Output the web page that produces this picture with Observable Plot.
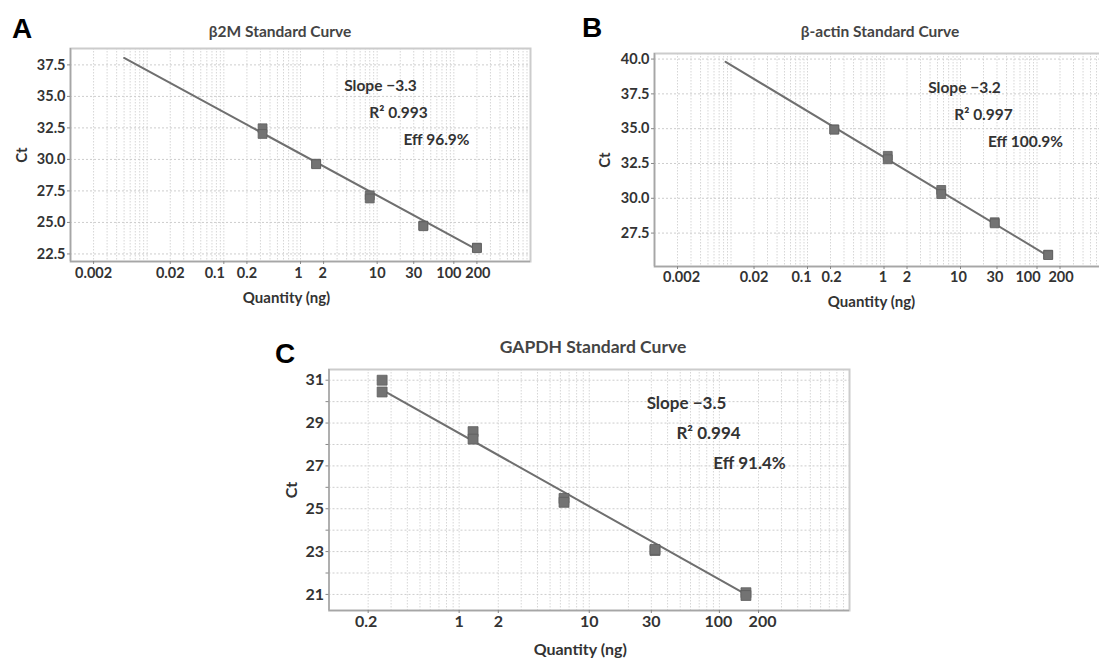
<!DOCTYPE html>
<html><head><meta charset="utf-8">
<script src="https://cdn.jsdelivr.net/npm/d3@7"></script>
<script src="https://cdn.jsdelivr.net/npm/@observablehq/plot@0.6"></script>
<style>
html,body{margin:0;padding:0;background:#fff;overflow:hidden;width:1099px;height:659px;}
#fig{position:relative;width:1099px;height:659px;overflow:hidden;}
.panel{position:absolute;}
.panel svg{max-width:none !important;}
#overlay{position:absolute;left:0;top:0;pointer-events:none;}
</style></head>
<body><div id="fig"></div>
<script>
// ---------- data ----------
const titles = ["β2M Standard Curve", "β-actin Standard Curve", "GAPDH Standard Curve"];
const letters = ["A", "B", "C"];
const xLabel = "Quantity (ng)";
const yLabel = "Ct";

const xTicksAB = [0.002, 0.02, 0.1, 0.2, 1, 2, 10, 30, 100, 200];
const xTicksC = [0.2, 1, 2, 10, 30, 100, 200];
const yTicksA = [22.5, 25, 27.5, 30, 32.5, 35, 37.5];
const yTicksB = [27.5, 30, 32.5, 35, 37.5, 40];
const yTicksC = [21, 22, 23, 24, 25, 26, 27, 28, 29, 30, 31];
const yLabelsC = [21, 23, 25, 27, 29, 31];

// panel A (β2M)
const qtyA = [0.32, 0.32, 1.6, 1.6, 8, 8, 40, 40, 200, 200];
const ctA  = [32.47, 32.02, 29.66, 29.62, 27.15, 26.9, 24.75, 24.7, 23.0, 22.96];
const fitQtyA = [0.005, 200];
const fitCtA  = [38.05, 22.85];
const notesA = ["Slope −3.3", "R² 0.993", "Eff 96.9%"];

// panel B (β-actin)
const qtyB = [0.224, 0.224, 1.12, 1.12, 5.6, 5.6, 28, 28, 140, 140];
const ctB  = [34.95, 34.93, 33.05, 32.8, 30.6, 30.3, 28.28, 28.2, 25.95, 25.92];
const fitQtyB = [0.0085, 150];
const fitCtB  = [39.8, 25.75];
const notesB = ["Slope −3.2", "R² 0.997", "Eff 100.9%"];

// panel C (GAPDH)
const qtyC = [0.256, 0.256, 1.28, 1.28, 6.4, 6.4, 32, 32, 160, 160];
const ctC  = [31.0, 30.45, 28.6, 28.25, 25.48, 25.3, 23.05, 23.1, 21.08, 20.95];
const fitQtyC = [0.256, 160];
const fitCtC  = [30.55, 21.0];
const notesC = ["Slope −3.5", "R² 0.994", "Eff 91.4%"];

// ---------- drawing ----------
const FONT = "Lato, 'Open Sans', sans-serif";
const GRAY = "#6f6f6f";
const TXT = "#333";

function logGrid(lo, hi) {
  const g = [];
  const e0 = Math.round(Math.log10(lo)), e1 = Math.round(Math.log10(hi));
  for (let e = e0; e < e1; e++) for (let k = 1; k <= 9; k++) g.push(k * Math.pow(10, e));
  g.push(hi);
  return g;
}

function panel(o) {
  const pts = o.qty.map((q, i) => ({q, c: o.ct[i]}));
  const fit = o.fitQty.map((q, i) => ({q, c: o.fitCt[i]}));
  const noteMarks = o.notes.map((t, i) => Plot.text([t], {
    text: d => d, frameAnchor: "top-left", dx: o.noteDx[i], dy: o.noteDy[i],
    textAnchor: "middle", lineAnchor: "middle", fontSize: o.noteSize, fontWeight: "bold", fill: TXT
  }));
  // one text mark per x tick label, so each can be nudged apart like in the original software
  const xLabelMarks = o.xTicks.map((v, i) => Plot.text([v], {
    x: d => d, text: d => String(d), frameAnchor: "bottom", dx: o.xNudge[i], dy: o.xTickDy,
    lineAnchor: "top", fill: TXT
  }));
  return Plot.plot({
    width: o.width, height: o.height,
    marginLeft: o.mL, marginRight: o.mR, marginTop: o.mT, marginBottom: o.mB,
    x: {type: "log", domain: o.xDomain},
    y: {domain: o.yDomain},
    style: {fontFamily: FONT, fontSize: o.tickSize + "px", fontWeight: "bold", color: TXT, background: "transparent", maxWidth: "none"},
    marks: [
      Plot.gridX(logGrid(o.xDomain[0], o.xDomain[1]), {stroke: "#d6d6d6", strokeOpacity: 1, strokeDasharray: "1.5,1.5"}),
      Plot.gridY(o.yGrid, {stroke: "#cdcdcd", strokeOpacity: 1, strokeDasharray: "2,2"}),
      Plot.frame({stroke: "#cccccc", strokeWidth: 2}),
      Plot.ruleX([o.xDomain[0]], {stroke: "#a6a6a6", strokeWidth: 1.5}),
      Plot.ruleY([o.yDomain[0]], {stroke: "#a6a6a6", strokeWidth: 1.5}),
      Plot.axisX(o.xTicks, {tickSize: 3, stroke: "#888", tickFormat: () => "", label: null}),
      ...xLabelMarks,
      Plot.axisY(o.yTicks, {tickSize: 3, tickPadding: 2, stroke: "#888", tickFormat: o.yFormat, label: null}),
      Plot.text([xLabel], {text: d => d, frameAnchor: "bottom", dx: o.xLabelDx, dy: o.xLabelDy, lineAnchor: "middle", fontSize: o.labelSize, fill: TXT}),
      Plot.text([yLabel], {text: d => d, frameAnchor: "left", dx: o.yLabelDx, rotate: -90, textAnchor: "middle", lineAnchor: "middle", fontSize: o.labelSize, fill: TXT}),
      Plot.line(fit, {x: "q", y: "c", stroke: GRAY, strokeWidth: 2}),
      Plot.dot(pts, {x: "q", y: "c", symbol: "square", r: o.dotR, fill: "#737373", stroke: "#5e5e5e", strokeWidth: 0.8}),
      ...noteMarks
    ]
  });
}

const fig = document.getElementById("fig");
function place(el, left, top, w, h) {
  const d = document.createElement("div");
  d.className = "panel"; d.style.left = left + "px"; d.style.top = top + "px";
  d.style.width = w + "px"; d.style.height = h + "px";
  d.appendChild(el); fig.appendChild(d);
}

place(panel({
  width: 545, height: 320, mL: 70, mR: 15, mT: 48, mB: 59,
  xDomain: [0.001, 1000], yDomain: [21.9, 38.8],
  xTicks: xTicksAB, xNudge: [0, 0, -9, 0, -2, -1, 0, 0, -5, 1],
  yTicks: yTicksA, yGrid: yTicksA, yFormat: d3.format(".1f"),
  qty: qtyA, ct: ctA, fitQty: fitQtyA, fitCt: fitCtA, dotR: 5,
  notes: notesA, noteDx: [310, 328, 366], noteDy: [38, 65, 92], noteSize: 15.5,
  tickSize: 14.5, labelSize: 15, xTickDy: 6, xLabelDx: -14, xLabelDy: 37, yLabelDx: -48.5
}), 0, 0, 545, 320);

place(panel({
  width: 580, height: 320, mL: 94, mR: 27, mT: 53, mB: 54,
  xDomain: [0.001, 1000], yDomain: [25.1, 40.4],
  xTicks: xTicksAB, xNudge: [4, 0, -6, 1, -1, 0, -2, -2, -9, 1],
  yTicks: yTicksB, yGrid: yTicksB, yFormat: d3.format(".1f"),
  qty: qtyB, ct: ctB, fitQty: fitQtyB, fitCt: fitCtB, dotR: 5,
  notes: notesB, noteDx: [310, 329, 371], noteDy: [35, 62, 89], noteSize: 15.5,
  tickSize: 14.5, labelSize: 15, xTickDy: 5, xLabelDx: -12.5, xLabelDy: 36, yLabelDx: -49
}), 560, 0, 580, 320);

place(panel({
  width: 600, height: 329, mL: 68.5, mR: 11, mT: 39, mB: 49,
  xDomain: [0.1, 1000], yDomain: [20.25, 31.5],
  xTicks: xTicksC, xNudge: [-2, 0, 0, 0, 0, -1, 4],
  yTicks: yTicksC, yGrid: yTicksC, yFormat: d => (yLabelsC.includes(d) ? String(d) : ""),
  qty: qtyC, ct: ctC, fitQty: fitQtyC, fitCt: fitCtC, dotR: 5.6,
  notes: notesC, noteDx: [357.5, 379.5, 420.5], noteDy: [34, 64, 94], noteSize: 17,
  tickSize: 16, labelSize: 16, xTickDy: 5, xLabelDx: -9, xLabelDy: 39.5, yLabelDx: -37
}), 260, 330, 600, 329);

// overlay: panel letters and titles
const svg = d3.select("#fig").append("svg").attr("id", "overlay").attr("width", 1099).attr("height", 659);
const letterPos = [[12, 38], [582, 37], [275, 363]];
svg.selectAll("text.letter").data(letters).join("text").attr("class", "letter")
  .attr("x", (d, i) => letterPos[i][0]).attr("y", (d, i) => letterPos[i][1])
  .attr("font-family", "'Liberation Sans', Arial, sans-serif").attr("font-weight", "bold")
  .attr("font-size", 28).attr("fill", "#000").text(d => d);
const titlePos = [[280, 37], [880, 37], [593, 353]];
const titleSize = [15.5, 15.5, 17.5];
svg.selectAll("text.title").data(titles).join("text").attr("class", "title")
  .attr("x", (d, i) => titlePos[i][0]).attr("y", (d, i) => titlePos[i][1])
  .attr("text-anchor", "middle").attr("font-family", FONT).attr("font-weight", "bold")
  .attr("font-size", (d, i) => titleSize[i]).attr("fill", "#444").text(d => d);
</script></body></html>
